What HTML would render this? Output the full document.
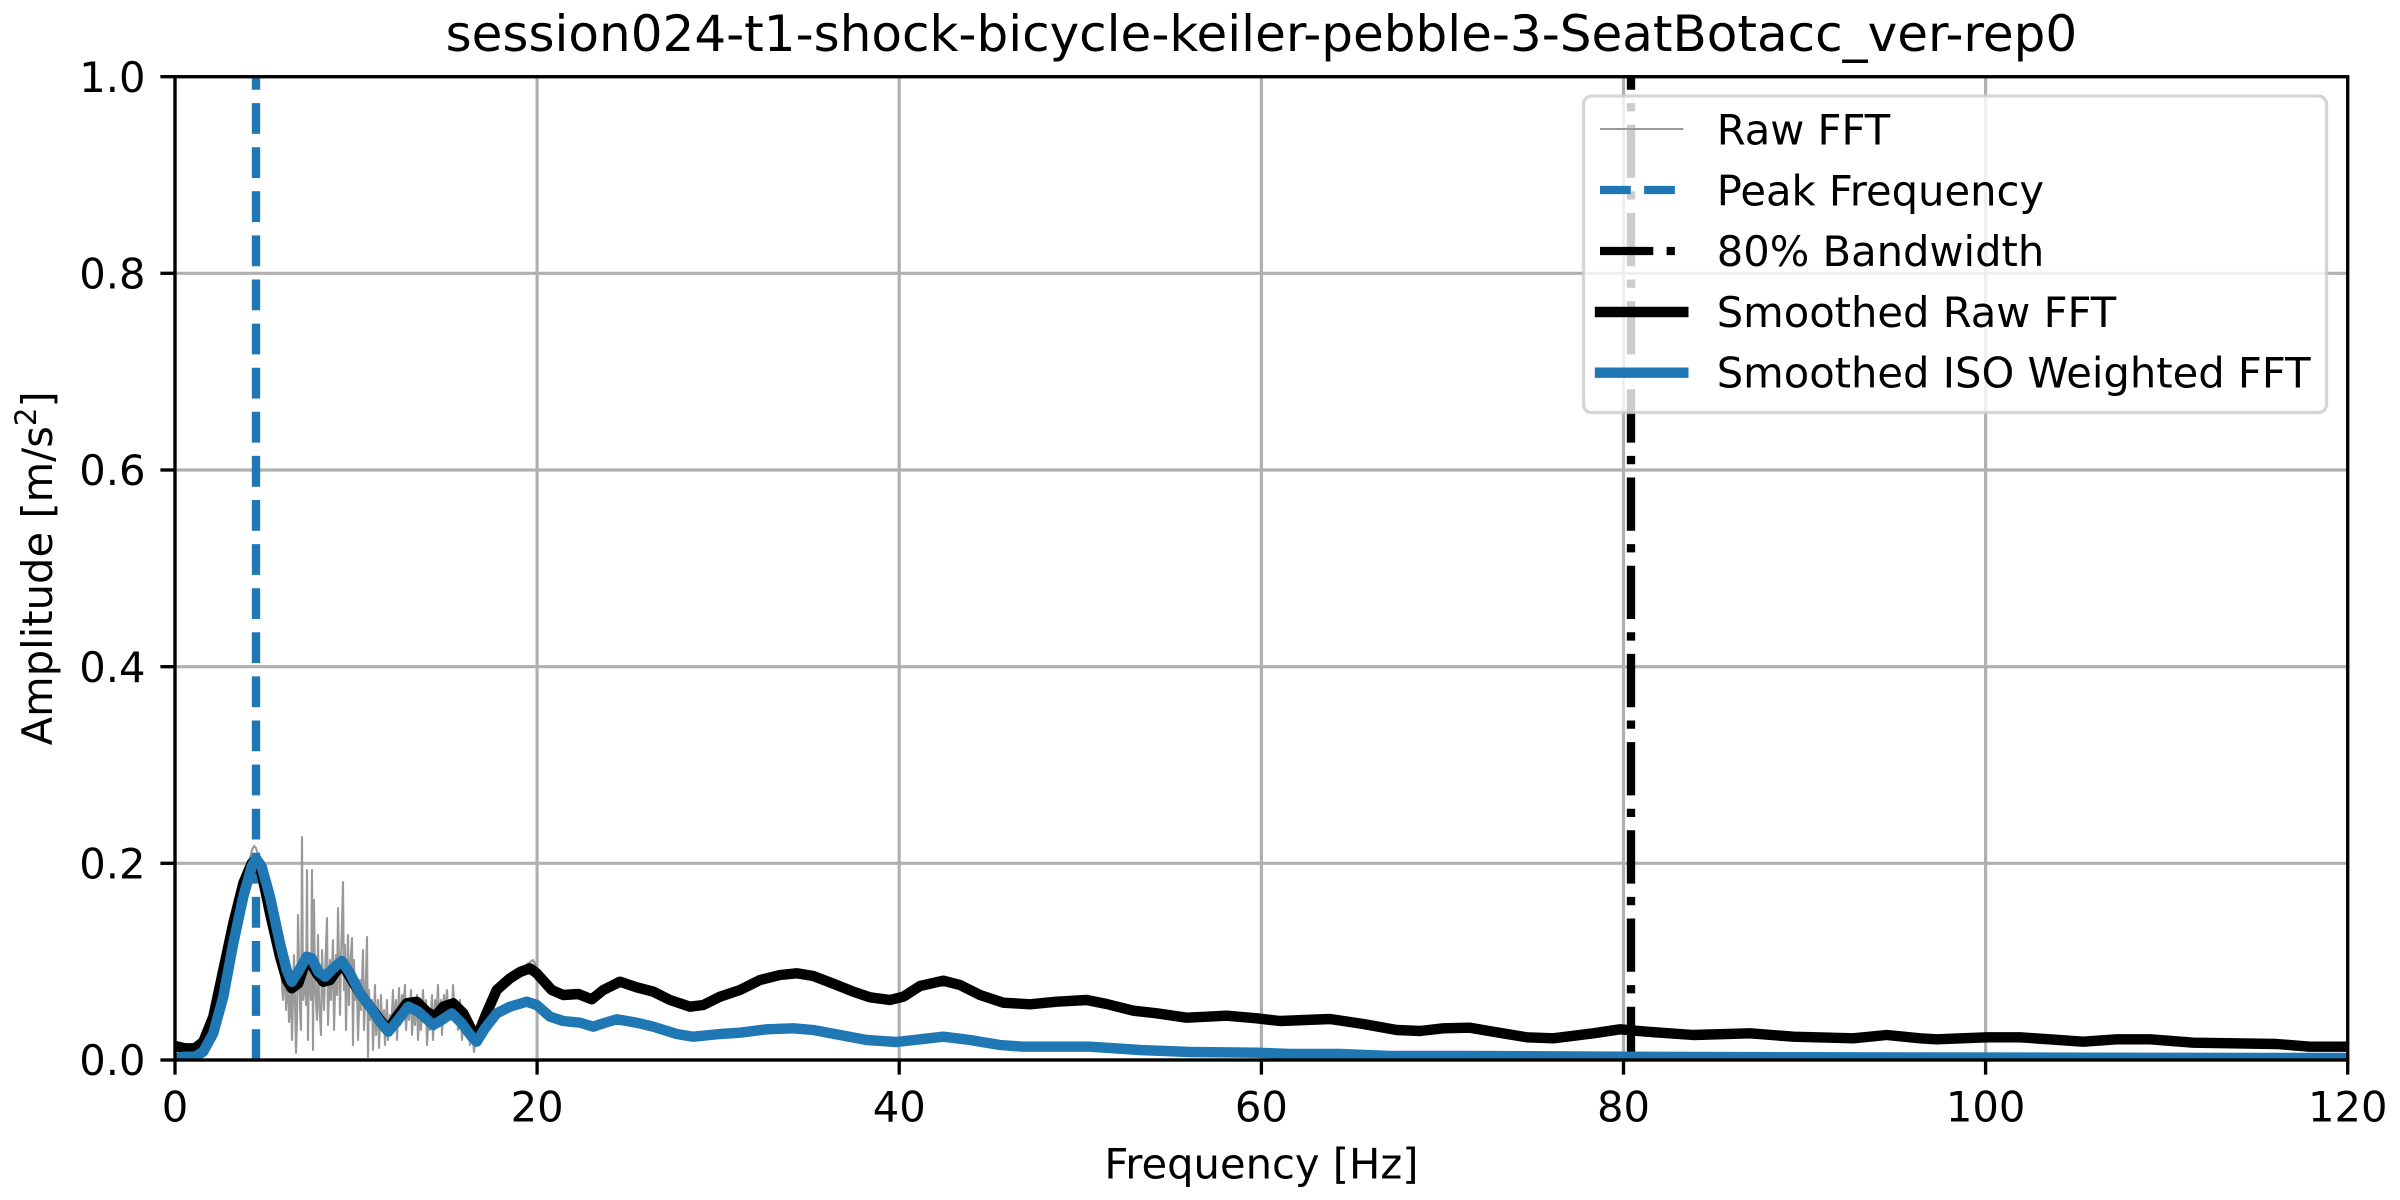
<!DOCTYPE html>
<html>
<head>
<meta charset="utf-8">
<style>
  html, body { margin: 0; padding: 0; background: #ffffff; }
  svg { display: block; }
  text { font-family: "DejaVu Sans", "Liberation Sans", sans-serif; fill: #000; }
</style>
</head>
<body>
<svg width="2400" height="1200" viewBox="0 0 2400 1200" xmlns="http://www.w3.org/2000/svg">
  <defs>
    <clipPath id="ax">
      <rect x="175" y="76.7" width="2172.7" height="983.3"/>
    </clipPath>
  </defs>
  <rect x="0" y="0" width="2400" height="1200" fill="#ffffff"/>

  <!-- Grid -->
  <g stroke="#b0b0b0" stroke-width="3.2" fill="none">
    <line x1="175" y1="76.7" x2="175" y2="1060"/>
    <line x1="537.1" y1="76.7" x2="537.1" y2="1060"/>
    <line x1="899.2" y1="76.7" x2="899.2" y2="1060"/>
    <line x1="1261.4" y1="76.7" x2="1261.4" y2="1060"/>
    <line x1="1623.5" y1="76.7" x2="1623.5" y2="1060"/>
    <line x1="1985.6" y1="76.7" x2="1985.6" y2="1060"/>
    <line x1="2347.7" y1="76.7" x2="2347.7" y2="1060"/>
    <line x1="175" y1="1060" x2="2347.7" y2="1060"/>
    <line x1="175" y1="863.3" x2="2347.7" y2="863.3"/>
    <line x1="175" y1="666.7" x2="2347.7" y2="666.7"/>
    <line x1="175" y1="470" x2="2347.7" y2="470"/>
    <line x1="175" y1="273.3" x2="2347.7" y2="273.3"/>
    <line x1="175" y1="76.7" x2="2347.7" y2="76.7"/>
  </g>

  <g clip-path="url(#ax)">
    <!-- Raw FFT -->
    <polyline fill="none" stroke="#999999" stroke-width="2.1" stroke-linejoin="round"
      points="175,1046 185,1048 195,1048 203,1042 213,1017 223,970 233,923 243,883 248,866 250,858 252,850 254,846 256,848 258,855 260,864 262,872 264,884 266,878 268,903 270,912 272,928 274,918 276,945 278,958 280,930 282,985 283,1000 285,962 286,1010 288,975 289,1022 291,990 292,1040 294,955 295,1000 296,1053 297,1020 298,915 300,1010 301,1030 302,837 303,1000 305,975 306,1005 307,870 308,1040 309,960 311,1000 312,870 313,1050 314,900 315,985 317,1020 318,935 319,1000 321,1035 322,950 324,1010 325,975 327,918 328,1025 330,960 331,1000 333,940 334,1030 336,955 337,995 338,908 340,1015 341,960 343,882 344,990 345,945 346,1030 348,935 349,1005 350,968 352,938 353,1045 354,960 355,1000 357,985 358,1040 360,980 361,1010 363,950 364,1030 366,975 367,937 368,1057 369,990 370,1020 372,1000 373,1050 375,985 376,1035 378,1000 379,1048 381,995 382,1025 384,1010 385,1045 387,1000 388,1040 390,1015 391,1035 393,990 394,1030 396,1000 397,1040 399,988 400,1025 402,995 403,1010 405,985 406,1030 408,1000 409,1020 411,990 412,1035 414,1000 415,1025 417,995 418,1040 420,1005 421,1030 423,990 424,1015 426,1000 427,1045 429,1010 430,1030 432,995 433,1040 435,1000 436,1025 438,985 439,1020 441,1000 442,1035 444,995 445,1015 447,990 448,1010 450,1000 452,1020 453,985 455,1015 457,1005 458,1030 460,1000 462,1040 464,1010 466,1035 468,1025 470,1045 472,1030 474,1052 476,1040 478,1038 480,1025 483,1020 486,1008 490,998 495,990 500,985 505,982 510,978 515,975 520,970 525,966 530,962 533,960 536,966 539,975 543,982 547,987 552,990 557,992 562,990 567,994 572,992 577,995 582,993 587,997 592,998 598,994 603,990 610,986 620,981 630,985 637,986 645,989 653,992 662,997 670,1001"/>

    <!-- Peak Frequency -->
    <line x1="256" y1="1060" x2="256" y2="76.7" stroke="#1f77b4" stroke-width="8.33" stroke-dasharray="30.8 13.3"/>

    <!-- 80% Bandwidth -->
    <line x1="1631" y1="1060" x2="1631" y2="76.7" stroke="#000000" stroke-width="8.33" stroke-dasharray="53.3 13.3 8.3 13.3"/>

    <!-- Smoothed Raw FFT -->
    <polyline fill="none" stroke="#000000" stroke-width="10.4" stroke-linejoin="round" stroke-linecap="square"
      points="175,1046 185,1048.3 195,1048.3 203.3,1041.7 213.3,1016.7 223.3,970 233.3,923.3 243.3,883.3 251.7,863.3 255,860 261.7,873.3 270,913.3 280,956.7 286.7,980 291.7,988.3 298.3,983.3 305,963.3 310,961.7 316.7,973.3 323.3,981.7 330,980 341.7,963.3 351.7,980 360,993.3 370,1006.7 380,1020 388.3,1030 396.7,1016.7 406.7,1003.3 416.7,1001.7 426.7,1011.7 435,1016.7 443.3,1006.7 453.3,1003.3 463.3,1013.3 471.7,1030 476.7,1038.3 485,1016.7 496.7,990 510,978.3 520,972 530,968.3 536.7,973.3 551.7,990 563.3,995 578.3,994 591.7,999.3 603.3,990 620,981.7 636.7,987.3 653.3,991.7 670,1000 690,1006.7 703.3,1005 720,996.7 740,990 760,980 780,975 796.7,973.3 813.3,976 836.7,985 853.3,991.7 870,997.3 890,1000 903.3,996.7 920,986 943.3,980.7 960,985 980,995 1003.3,1002.7 1030,1004.3 1056.7,1001.7 1086.7,1000 1106.7,1004 1133.3,1010.7 1156.7,1013.3 1186.7,1017.7 1226.7,1015.7 1256.7,1018.3 1280,1021 1330,1019 1363.3,1024 1396.7,1030 1420,1031 1443.3,1028.3 1470,1027.7 1493.3,1031.7 1526.7,1037.3 1553.3,1038.3 1593.3,1033.3 1620,1029.3 1646.7,1031.7 1693.3,1035 1750,1033.3 1793.3,1036.7 1853.3,1038.3 1886.7,1035 1920,1038.3 1936.7,1039.3 1986.7,1037.3 2020,1037.3 2083.3,1041.7 2116.7,1039.3 2150,1039.3 2193.3,1042.7 2276.7,1044 2310,1046.7 2350,1046.7"/>

    <!-- Smoothed ISO Weighted FFT -->
    <polyline fill="none" stroke="#1f77b4" stroke-width="10.4" stroke-linejoin="round" stroke-linecap="square"
      points="175,1058.3 183.3,1056.7 195,1056.7 203.3,1051.7 213.3,1033.3 223.3,996.7 233.3,943.3 243.3,896.7 251.7,866.7 256,858.3 261.7,866.7 270,896.7 280,943.3 286.7,970 291.7,981.7 298.3,971.7 306.7,956.7 311.7,958.3 318.3,971.7 325,976.7 333.3,968.3 341.7,961 350,973.3 360,993.3 370,1006.7 380,1021.7 388.3,1031.7 396.7,1021.7 408.3,1006.7 418.3,1011.7 433.3,1025 441.7,1020 451.7,1013.3 461.7,1023.3 471.7,1036.7 476.7,1041.7 485,1028.3 496.7,1013.3 510,1006.7 526.7,1001.7 536.7,1005 550,1016.7 563.3,1021 580,1022.7 593.3,1026.7 603.3,1023.3 616.7,1019.3 636.7,1022.7 653.3,1026.7 676.7,1034 693.3,1036.7 720,1034 740,1032.7 766.7,1029.3 793.3,1028.3 813.3,1030 840,1035 866.7,1040 896.7,1042 920,1039.3 943.3,1036.7 970,1040 1000,1045 1023.3,1046.7 1090,1046.7 1140,1050 1190,1052 1256.7,1052.7 1290,1054 1340,1054 1390,1056 1470,1056 1700,1057 1920,1057.5 2350,1058"/>
  </g>

  <!-- Spines -->
  <rect x="175" y="76.7" width="2172.7" height="983.3" fill="none" stroke="#000" stroke-width="3.33"/>

  <!-- X ticks -->
  <g stroke="#000" stroke-width="3.33">
    <line x1="175" y1="1060" x2="175" y2="1074.6"/>
    <line x1="537.1" y1="1060" x2="537.1" y2="1074.6"/>
    <line x1="899.2" y1="1060" x2="899.2" y2="1074.6"/>
    <line x1="1261.4" y1="1060" x2="1261.4" y2="1074.6"/>
    <line x1="1623.5" y1="1060" x2="1623.5" y2="1074.6"/>
    <line x1="1985.6" y1="1060" x2="1985.6" y2="1074.6"/>
    <line x1="2347.7" y1="1060" x2="2347.7" y2="1074.6"/>
  </g>
  <g font-size="41.67" text-anchor="middle">
    <text x="175" y="1121.7">0</text>
    <text x="537.1" y="1121.7">20</text>
    <text x="899.2" y="1121.7">40</text>
    <text x="1261.4" y="1121.7">60</text>
    <text x="1623.5" y="1121.7">80</text>
    <text x="1985.6" y="1121.7">100</text>
    <text x="2347.7" y="1121.7">120</text>
  </g>

  <!-- Y ticks -->
  <g stroke="#000" stroke-width="3.33">
    <line x1="160.4" y1="1060" x2="175" y2="1060"/>
    <line x1="160.4" y1="863.3" x2="175" y2="863.3"/>
    <line x1="160.4" y1="666.7" x2="175" y2="666.7"/>
    <line x1="160.4" y1="470" x2="175" y2="470"/>
    <line x1="160.4" y1="273.3" x2="175" y2="273.3"/>
    <line x1="160.4" y1="76.7" x2="175" y2="76.7"/>
  </g>
  <g font-size="41.67" text-anchor="end">
    <text x="145.5" y="1075.2">0.0</text>
    <text x="145.5" y="878.5">0.2</text>
    <text x="145.5" y="681.9">0.4</text>
    <text x="145.5" y="485.2">0.6</text>
    <text x="145.5" y="288.5">0.8</text>
    <text x="145.5" y="91.9">1.0</text>
  </g>

  <!-- Axis labels -->
  <text x="1261.4" y="1178.3" font-size="41.67" text-anchor="middle">Frequency [Hz]</text>
  <text transform="translate(52,568.3) rotate(-90)" font-size="41.67" text-anchor="middle">Amplitude [m/s<tspan font-size="29.2" dy="-16">2</tspan><tspan dy="16">]</tspan></text>

  <!-- Title -->
  <text x="1261.4" y="51" font-size="50" text-anchor="middle">session024-t1-shock-bicycle-keiler-pebble-3-SeatBotacc_ver-rep0</text>

  <!-- Legend -->
  <rect x="1583.5" y="96" width="743" height="316.5" rx="8" ry="8" fill="#ffffff" fill-opacity="0.8" stroke="#cccccc" stroke-opacity="0.8" stroke-width="3.33"/>
  <line x1="1600" y1="129" x2="1683.3" y2="129" stroke="#999999" stroke-width="2.1"/>
  <line x1="1600" y1="190" x2="1683.3" y2="190" stroke="#1f77b4" stroke-width="8.33" stroke-dasharray="30.8 13.3"/>
  <line x1="1600" y1="251" x2="1683.3" y2="251" stroke="#000000" stroke-width="8.33" stroke-dasharray="53.3 13.3 8.3 13.3"/>
  <line x1="1600" y1="312" x2="1683.3" y2="312" stroke="#000000" stroke-width="10.4" stroke-linecap="square"/>
  <line x1="1600" y1="372.7" x2="1683.3" y2="372.7" stroke="#1f77b4" stroke-width="10.4" stroke-linecap="square"/>
  <g font-size="41.67">
    <text x="1716.7" y="144.5">Raw FFT</text>
    <text x="1716.7" y="205.3">Peak Frequency</text>
    <text x="1716.7" y="266">80% Bandwidth</text>
    <text x="1716.7" y="326.8">Smoothed Raw FFT</text>
    <text x="1716.7" y="387.5">Smoothed ISO Weighted FFT</text>
  </g>
</svg>
</body>
</html>
